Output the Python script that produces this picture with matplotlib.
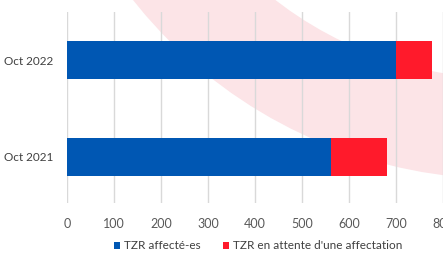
import matplotlib.pyplot as plt
from matplotlib.patches import Wedge

# données
periodes = ["Oct 2021", "Oct 2022"]
affectes = [562, 700]
en_attente = [118, 77]
noms = ["TZR affecté-es", "TZR en attente d'une affectation"]
couleurs = ["#0057B3", "#FF1A2B"]

plt.rcParams['font.family'] = ['Lato', 'DejaVu Sans']

W, H = 443, 254
fig = plt.figure(figsize=(W / 100, H / 100), dpi=100)

# arc rose décoratif en fond (coordonnées pixels -> figure)
fond = fig.add_axes([0, 0, 1, 1], zorder=0)
fond.set_xlim(0, W)
fond.set_ylim(H, 0)
fond.axis("off")
fond.add_patch(Wedge((503, -293), 472, 90, 270, width=101,
                     facecolor="#FCE4E7", edgecolor="none"))

ax = fig.add_axes([67 / W, 1 - 203 / H, 376 / W, 191 / H], zorder=1)
ax.patch.set_alpha(0)

y = range(len(periodes))
ax.barh(y, affectes, height=0.39, color=couleurs[0], label=noms[0], zorder=3)
ax.barh(y, en_attente, left=affectes, height=0.39, color=couleurs[1],
        label=noms[1], zorder=3)

ax.set_xlim(0, 800)
ax.set_ylim(-0.48, 1.5)
ax.set_xticks(range(0, 900, 100))
ax.set_yticks(list(y))
ax.set_yticklabels(periodes)
ax.grid(axis="x", color="#D9D9D9", linewidth=1, zorder=0)
for s in ax.spines.values():
    s.set_visible(False)
ax.tick_params(length=0, labelsize=8.5, colors="#404040")
ax.tick_params(axis="x", pad=11, labelsize=9, colors="#595959")
ax.tick_params(axis="y", pad=10)

leg = fig.legend(loc="center", bbox_to_anchor=(258 / W, 1 - 246 / H), ncol=2,
                 frameon=False, fontsize=8.5, handlelength=0.55, handleheight=0.55,
                 handletextpad=0.3, columnspacing=1.9)
for t in leg.get_texts():
    t.set_color("#404040")

fig.savefig("out.png", dpi=100)
